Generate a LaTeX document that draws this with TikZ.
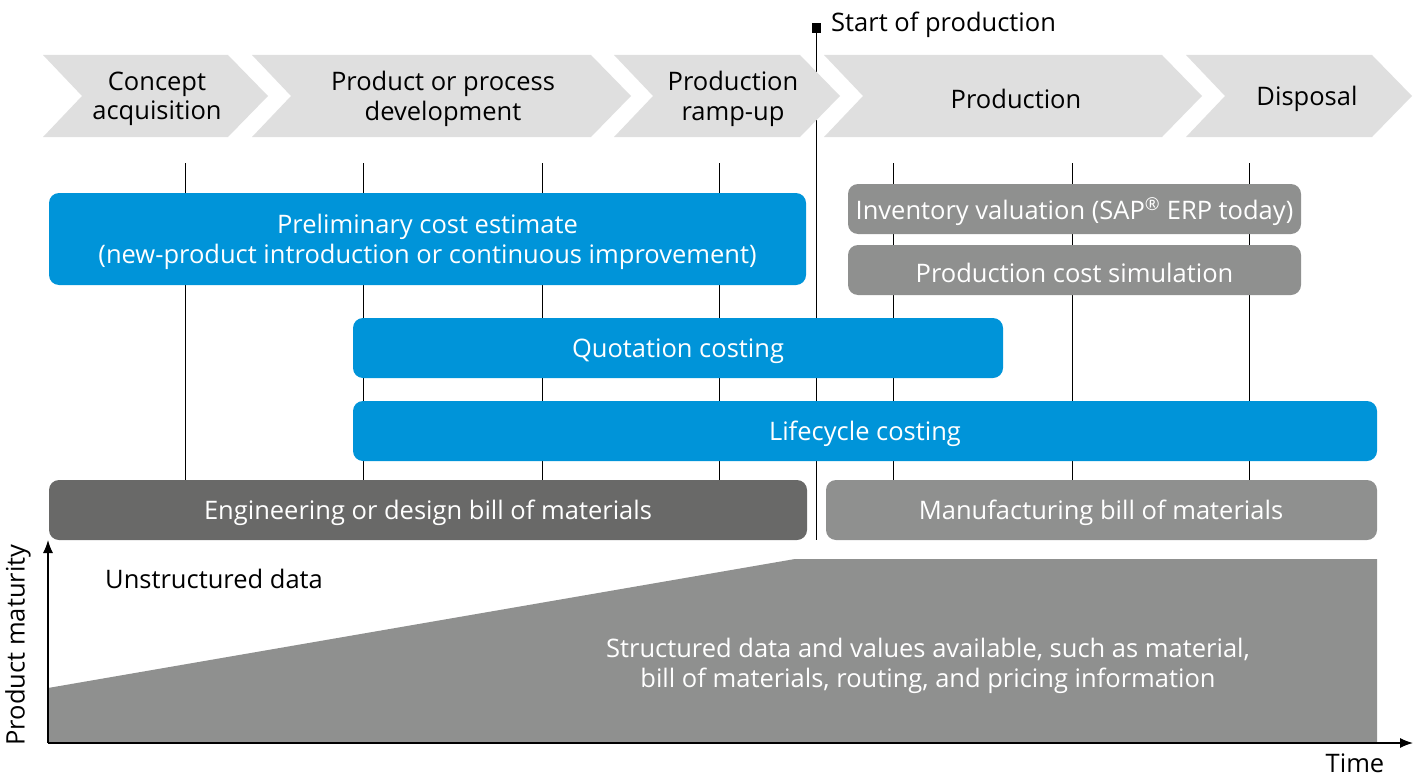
\documentclass[tikz,border=0pt]{standalone}
\usepackage{fontspec}
\setmainfont{Open Sans}
\usetikzlibrary{arrows.meta}
\definecolor{chev}{HTML}{DFDFDF}
\definecolor{sapblue}{HTML}{0094D9}
\definecolor{midgrey}{HTML}{8F908F}
\definecolor{darkgrey}{HTML}{696968}
\begin{document}
\begin{tikzpicture}[x=1pt,y=-1pt,
  txt/.style={font=\fontsize{25.5}{29.5}\selectfont, align=center, inner sep=0pt},
  wtxt/.style={txt, text=white},
  bar/.style={rounded corners=10pt},
  tick/.style={line width=0.9pt, black},
  axis/.style={line width=1.2pt, -{Latex[length=13pt,width=10pt]}},
  chevshape/.style={fill=chev}
]
\useasboundingbox (0,0) rectangle (1422,776);
% vertical lines
\foreach \x in {185,363,542,719,893,1072,1249}
  \draw[tick] (\x,163) -- (\x,540);
\coordinate (soptop) at (816,28);
\coordinate (sopbot) at (816,540);
\draw[tick] (soptop) -- (sopbot);
\fill[black] (812,23) rectangle (821,33);
\node[txt, anchor=west] (sop) at (831,25) {Start of production};
% chevrons
\newcommand{\chevron}[2]{%
  \fill[chevshape] (#1,55) -- (#2,55) -- (#2+40,96) -- (#2,137) -- (#1,137) -- (#1+39,96) -- cycle;}
\chevron{43}{228}
\chevron{252}{591}
\chevron{614}{800}
\chevron{824}{1162}
\chevron{1186}{1372}
\node[txt] (c1) at (157,99) {Concept\\acquisition};
\node[txt] (c2) at (443,99) {Product or process\\development};
\node[txt] (c3) at (733,99) {Production\\ramp-up};
\node[txt] (c4) at (1016,99) {Production};
\node[txt] (c5) at (1307,99) {Disposal};
% bars
\fill[bar, sapblue] (49,193) rectangle (806,285);
\node[wtxt] (pce) at (427.5,242) {Preliminary cost estimate\\(new-product introduction or continuous improvement)};
\fill[bar, midgrey] (848,184) rectangle (1301,234);
\node[wtxt] (inv) at (1074.5,212) {Inventory valuation (SAP\textsuperscript{\textregistered} ERP today)};
\fill[bar, midgrey] (848,245) rectangle (1301,295);
\node[wtxt] (pcs) at (1074.5,273) {Production cost simulation};
\fill[bar, sapblue] (353,318) rectangle (1003,378);
\node[wtxt] (qc) at (678,351) {Quotation costing};
\fill[bar, sapblue] (353,401) rectangle (1377,461);
\node[wtxt] (lc) at (865,434) {Lifecycle costing};
\fill[bar, darkgrey] (49,480) rectangle (807,540);
\node[wtxt] (ebom) at (428,513) {Engineering or design bill of materials};
\fill[bar, midgrey] (826,480) rectangle (1377,540);
\node[wtxt] (mbom) at (1101,513) {Manufacturing bill of materials};
% bottom area
\fill[midgrey] (48,688) -- (795,559) -- (1377,559) -- (1377,743) -- (48,743) -- cycle;
\coordinate (orig) at (48,743);
\coordinate (ytop) at (48,540);
\coordinate (xend) at (1413,743);
\draw[axis] (orig) -- (ytop);
\draw[axis] (orig) -- (xend);
\node[txt, anchor=west] (ud) at (105,579) {Unstructured data};
\node[wtxt] (sd) at (928,666) {Structured data and values available, such as material,\\bill of materials, routing, and pricing information};
\node[txt, rotate=90] (pm) at (18,645) {Product maturity};
\node[txt] (time) at (1355,763) {Time};
\end{tikzpicture}
\end{document}
